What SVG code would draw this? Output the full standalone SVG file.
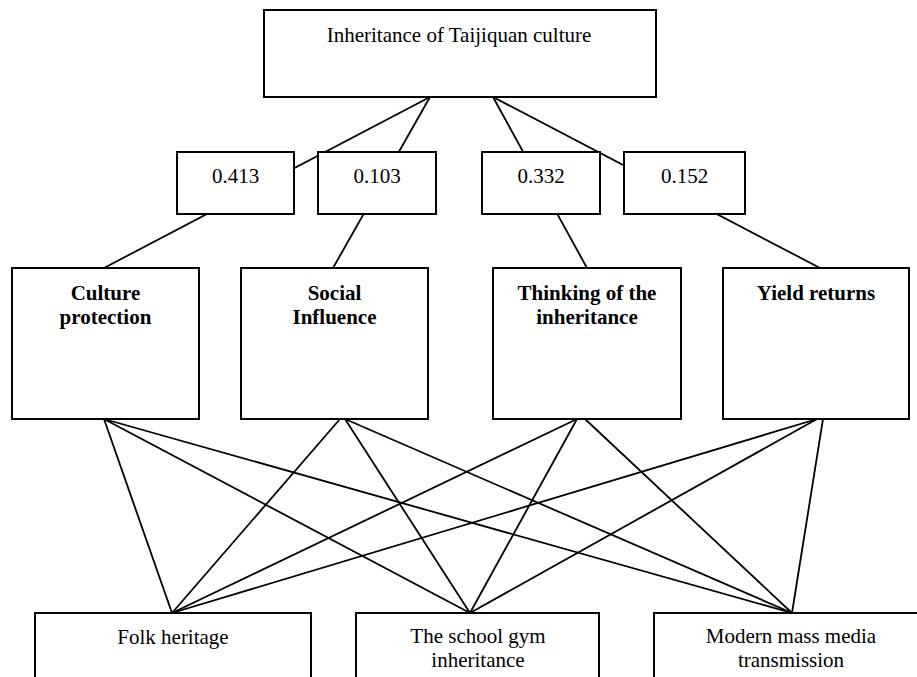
<svg xmlns="http://www.w3.org/2000/svg" width="917" height="677" viewBox="0 0 917 677">
<style>
.box{fill:#fff;stroke:#000;stroke-width:2}
.ln{stroke:#000;stroke-width:1.8;fill:none}
.t{font-family:"Liberation Serif","Times New Roman",serif;font-size:21px;fill:#000;text-anchor:middle}
.b{font-weight:bold}
</style>
<rect width="917" height="677" fill="#fff"/>
<g id="connectors">
<line class="ln" x1="430" y1="97" x2="104" y2="268"/>
<line class="ln" x1="430" y1="97" x2="333" y2="268"/>
<line class="ln" x1="493" y1="97" x2="587" y2="268"/>
<line class="ln" x1="493" y1="97" x2="820" y2="268"/>
<line class="ln" x1="104" y1="419" x2="172" y2="613"/>
<line class="ln" x1="104" y1="419" x2="470" y2="613"/>
<line class="ln" x1="104" y1="419" x2="792" y2="613"/>
<line class="ln" x1="340" y1="419" x2="172" y2="613"/>
<line class="ln" x1="345" y1="419" x2="470" y2="613"/>
<line class="ln" x1="345" y1="419" x2="792" y2="613"/>
<line class="ln" x1="577" y1="419" x2="172" y2="613"/>
<line class="ln" x1="577" y1="419" x2="470" y2="613"/>
<line class="ln" x1="585" y1="419" x2="792" y2="613"/>
<line class="ln" x1="817" y1="419" x2="172" y2="613"/>
<line class="ln" x1="817" y1="419" x2="470" y2="613"/>
<line class="ln" x1="823" y1="419" x2="792" y2="613"/>
</g>
<g id="goal">
<rect class="box" x="264" y="10" width="392" height="87"/>
<text class="t" x="459" y="42">Inheritance of Taijiquan culture</text>
</g>
<g id="w1">
<rect class="box" x="177" y="152" width="117" height="62"/>
<text class="t" x="235.5" y="183">0.413</text>
</g>
<g id="w2">
<rect class="box" x="318" y="152" width="118" height="62"/>
<text class="t" x="377" y="183">0.103</text>
</g>
<g id="w3">
<rect class="box" x="482" y="152" width="118" height="62"/>
<text class="t" x="541" y="183">0.332</text>
</g>
<g id="w4">
<rect class="box" x="624" y="152" width="121" height="62"/>
<text class="t" x="684.5" y="183">0.152</text>
</g>
<g id="c1">
<rect class="box" x="12" y="268" width="187" height="151"/>
<text class="t b" x="105.5" y="300">Culture</text>
<text class="t b" x="105.5" y="324">protection</text>
</g>
<g id="c2">
<rect class="box" x="241" y="268" width="187" height="151"/>
<text class="t b" x="334.5" y="300">Social</text>
<text class="t b" x="334.5" y="324">Influence</text>
</g>
<g id="c3">
<rect class="box" x="493" y="268" width="188" height="151"/>
<text class="t b" x="587" y="300">Thinking of the</text>
<text class="t b" x="587" y="324">inheritance</text>
</g>
<g id="c4">
<rect class="box" x="723" y="268" width="186" height="151"/>
<text class="t b" x="816" y="300">Yield returns</text>
</g>
<g id="a1">
<rect class="box" x="35" y="613" width="276" height="80"/>
<text class="t" x="173" y="644">Folk heritage</text>
</g>
<g id="a2">
<rect class="box" x="356" y="613" width="243" height="80"/>
<text class="t" x="478" y="643">The school gym</text>
<text class="t" x="478" y="667">inheritance</text>
</g>
<g id="a3">
<rect class="box" x="654" y="613" width="280" height="80"/>
<text class="t" x="791" y="643">Modern mass media</text>
<text class="t" x="791" y="667">transmission</text>
</g>
</svg>
